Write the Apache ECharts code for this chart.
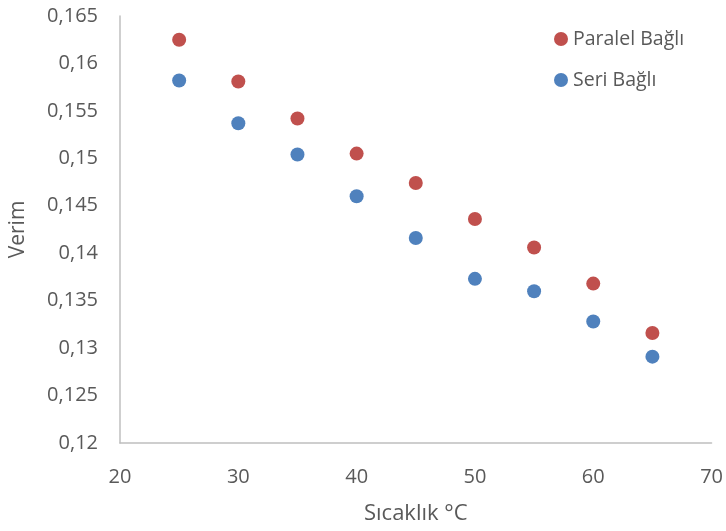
<!DOCTYPE html>
<html>
<head>
<meta charset="utf-8">
<script src="https://cdn.jsdelivr.net/npm/echarts@6/dist/echarts.min.js"></script>
<style>html,body{margin:0;padding:0;background:#fff}#c{width:726px;height:531px}</style>
</head>
<body>
<div id="c"></div>
<script>
var temps = [25, 30, 35, 40, 45, 50, 55, 60, 65];
var paralel = [0.1625, 0.1581, 0.1542, 0.1505, 0.1474, 0.1436, 0.1406, 0.1368, 0.1316];
var seri = [0.1582, 0.1537, 0.1504, 0.1460, 0.1416, 0.1373, 0.1360, 0.1328, 0.1291];
var seriesNames = ['Paralel Bağlı', 'Seri Bağlı'];
var xTitle = 'Sıcaklık °C';
var yTitle = 'Verim';

function pairs(xs, ys) { return xs.map(function (x, i) { return [x, ys[i]]; }); }
var FONT = '"Open Sans", sans-serif';
var chart = echarts.init(document.getElementById('c'), null, { renderer: 'canvas' });
chart.setOption({
  animation: false,
  backgroundColor: '#ffffff',
  grid: { left: 120, right: 14, top: 16, bottom: 88, containLabel: false },
  legend: {
    orient: 'vertical', left: 549, top: 24, itemGap: 21,
    icon: 'circle', itemWidth: 14, itemHeight: 14,
    textStyle: { color: '#595959', fontSize: 19.5, fontFamily: FONT, padding: [0, 0, 0, 0] },
    data: seriesNames
  },
  xAxis: {
    type: 'value', min: 20, max: 70, interval: 10,
    name: xTitle, nameLocation: 'middle', nameGap: 60,
    nameTextStyle: { color: '#595959', fontSize: 22, fontFamily: FONT },
    axisLine: { show: true, lineStyle: { color: '#bfbfbf', width: 1.5 } },
    axisTick: { show: false },
    splitLine: { show: false },
    axisLabel: { color: '#595959', fontSize: 20, fontFamily: FONT, margin: 24 }
  },
  yAxis: {
    type: 'value', min: 0.12, max: 0.165, interval: 0.005,
    name: yTitle, nameLocation: 'middle', nameGap: 91, nameRotate: 90,
    nameTextStyle: { color: '#595959', fontSize: 21, fontFamily: FONT },
    axisLine: { show: true, lineStyle: { color: '#bfbfbf', width: 1.5 } },
    axisTick: { show: false },
    splitLine: { show: false },
    axisLabel: {
      color: '#595959', fontSize: 20, fontFamily: FONT, margin: 22,
      formatter: function (v) { return String(+v.toFixed(3)).replace('.', ','); }
    }
  },
  series: [
    { name: seriesNames[0], type: 'scatter', symbolSize: 14, itemStyle: { color: '#C0504D', opacity: 1 }, data: pairs(temps, paralel) },
    { name: seriesNames[1], type: 'scatter', symbolSize: 14, itemStyle: { color: '#4F81BD', opacity: 1 }, data: pairs(temps, seri) }
  ]
});
</script>
</body>
</html>
